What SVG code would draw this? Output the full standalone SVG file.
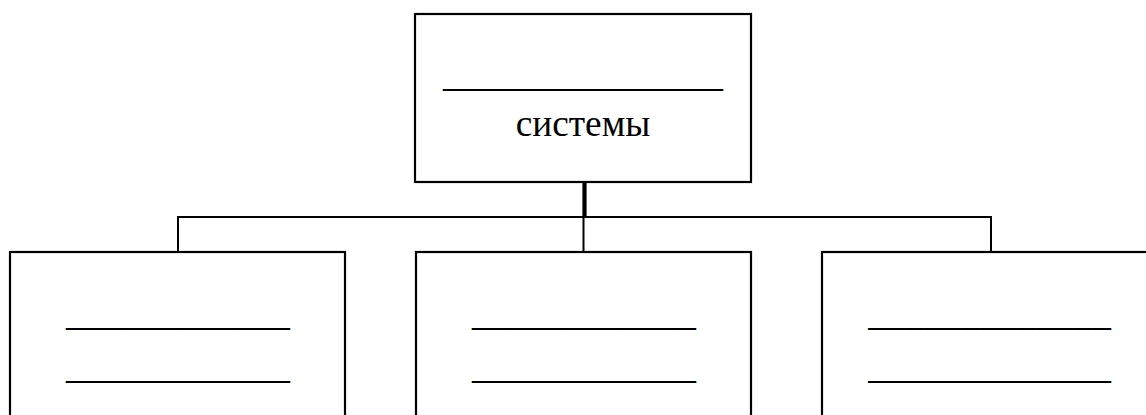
<svg xmlns="http://www.w3.org/2000/svg" width="1146" height="415" viewBox="0 0 1146 415">
<style>
.box{fill:#fff;stroke:#000;stroke-width:2.2}
.t{font-family:"Liberation Serif","Times New Roman",serif;font-size:37.33px;fill:#000;text-anchor:middle}
.c{fill:none;stroke:#000;stroke-width:2}
</style>
<rect width="1146" height="415" fill="#fff"/>
<g id="connectors">
<line class="c" x1="584.5" y1="182" x2="584.5" y2="217" style="stroke-width:4.2"/>
<polyline class="c" points="178,252 178,217 991,217 991,252"/>
<line class="c" x1="583.5" y1="217" x2="583.5" y2="252"/>
</g>
<g id="node-top">
<rect class="box" x="415" y="14" width="336" height="168"/>
<text class="t" x="583" y="86">_______________</text>
<text class="t" x="583" y="136">системы</text>
</g>
<g id="node-left">
<rect class="box" x="10" y="252" width="335" height="180"/>
<text class="t" x="178" y="324.5">____________</text>
<text class="t" x="178" y="377.5">____________</text>
</g>
<g id="node-middle">
<rect class="box" x="416" y="252" width="335" height="180"/>
<text class="t" x="584" y="324.5">____________</text>
<text class="t" x="584" y="377.5">____________</text>
</g>
<g id="node-right">
<rect class="box" x="822" y="252" width="335" height="180"/>
<text class="t" x="989.5" y="324.5">_____________</text>
<text class="t" x="989.5" y="377.5">_____________</text>
</g>
</svg>
